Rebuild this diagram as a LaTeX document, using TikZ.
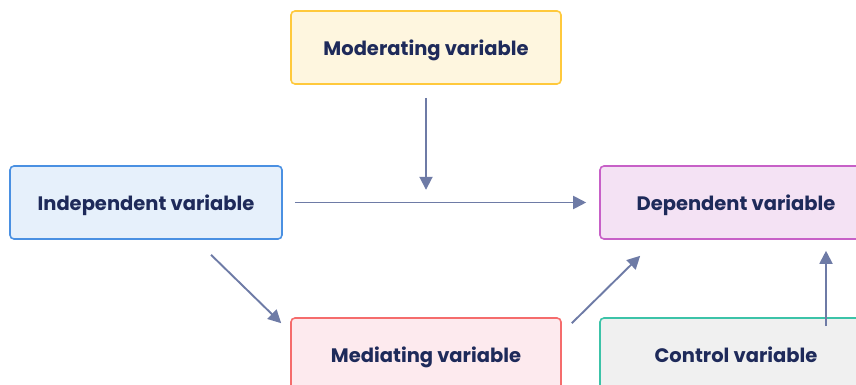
\documentclass[tikz,border=0pt]{standalone}
\usepackage{fontspec}
\setmainfont{Poppins}
\usetikzlibrary{arrows.meta,calc}
\definecolor{txt}{HTML}{1E2A5A}
\definecolor{arr}{HTML}{6E7BA6}
\definecolor{modfill}{HTML}{FEF6DF}\definecolor{moddraw}{HTML}{FFC93C}
\definecolor{indfill}{HTML}{E6F0FB}\definecolor{inddraw}{HTML}{4A90E2}
\definecolor{depfill}{HTML}{F4E2F4}\definecolor{depdraw}{HTML}{C760C7}
\definecolor{medfill}{HTML}{FDEAEE}\definecolor{meddraw}{HTML}{F56C6C}
\definecolor{ctlfill}{HTML}{F0F0F0}\definecolor{ctldraw}{HTML}{3CC3A8}
\tikzset{
  varbox/.style={rectangle, rounded corners=4pt, line width=1.6pt, minimum height=73pt,
    minimum width=270pt, inner sep=0pt, text height=17pt, text depth=0pt, text=txt,
    font=\bfseries\fontsize{19.5}{23}\selectfont},
  link/.style={draw=arr, line width=1.9pt, -{Triangle[length=13pt,width=13pt]}}
}
\begin{document}
\begin{tikzpicture}[x=1pt,y=1pt]
\useasboundingbox (0,0) rectangle (856,385);
\clip (0,0) rectangle (856,385);
\node[varbox, fill=modfill, draw=moddraw] (mod) at (426,337.5) {Moderating variable};
\node[varbox, fill=indfill, draw=inddraw, minimum width=272pt] (ind) at (146,182.5) {Independent variable};
\node[varbox, fill=depfill, draw=depdraw, minimum width=272pt] (dep) at (736,182.5) {Dependent variable};
\node[varbox, fill=medfill, draw=meddraw] (med) at (426,30.5) {Mediating variable};
\node[varbox, fill=ctlfill, draw=ctldraw, minimum width=272pt] (ctl) at (736,30.5) {Control variable};
\coordinate (modtip) at ($(mod.south)+(0,-105)$);
\draw[link] ($(mod.south)+(0,-13)$) -- (modtip);
\draw[link] ($(ind.east)+(12,0)$) -- ($(dep.west)+(-13,0)$);
\draw[link] ($(ind.south)+(65,-15)$) -- ($(med.north west)+(-9,-6)$);
\draw[link] ($(med.north east)+(10,-6)$) -- ($(dep.south west)+(41,-16)$);
\draw[link] ($(ctl.north)+(90,-9)$) -- ($(dep.south)+(90,-11)$);
\end{tikzpicture}
\end{document}
